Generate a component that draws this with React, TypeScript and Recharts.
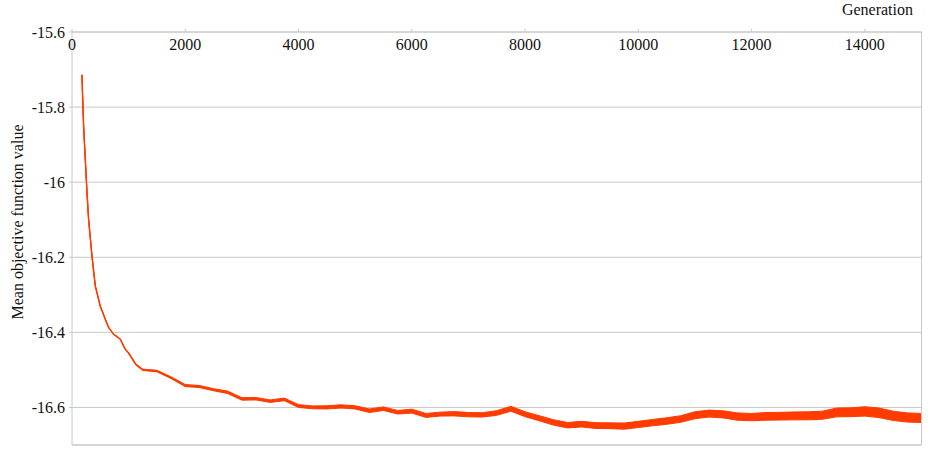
import { Area, ComposedChart, Line, ReferenceLine, XAxis, YAxis, CartesianGrid, Label } from "recharts";

const generation = [
  176, 185, 205, 235, 265, 293, 353, 411, 499, 588, 646, 700, 734, 800, 852, 940,
  1000, 1125, 1250, 1500, 1750, 2000, 2250, 2500, 2750, 3000, 3250, 3500, 3750, 4000, 4250, 4500,
  4750, 5000, 5250, 5500, 5750, 6000, 6250, 6500, 6750, 7000, 7250, 7500, 7750, 8000, 8250, 8500,
  8750, 9000, 9250, 9500, 9750, 10000, 10250, 10500, 10750, 11000, 11250, 11500, 11750, 12000,
  12250, 12500, 12750, 13000, 13250, 13500, 13750, 14000, 14250, 14500, 14750, 15000,
];
const meanValue = [
  -15.714, -15.76, -15.851, -15.94, -16.028, -16.099, -16.197, -16.276, -16.33, -16.365, -16.387,
  -16.398, -16.405, -16.412, -16.418, -16.445,
  -16.455, -16.485, -16.5, -16.503, -16.521, -16.542, -16.544, -16.553, -16.56, -16.577, -16.577,
  -16.583, -16.579, -16.596, -16.6, -16.6, -16.597, -16.6, -16.609, -16.603, -16.613, -16.61,
  -16.621, -16.618, -16.617, -16.619, -16.62, -16.615, -16.604, -16.618, -16.629, -16.64, -16.647,
  -16.645, -16.648, -16.649, -16.65, -16.645, -16.641, -16.636, -16.631, -16.621, -16.616, -16.619,
  -16.624, -16.626, -16.624, -16.623, -16.623, -16.622, -16.621, -16.614, -16.613, -16.611, -16.614,
  -16.622, -16.627, -16.628,
];
// spread of the noisy trace above and below the mean
const noiseUp = [
  0, 0, 0, 0, 0, 0, 0, 0, 0, 0, 0, 0, 0, 0, 0, 0,
  0.001, 0.0015, 0.002, 0.002, 0.0025, 0.003, 0.0025, 0.003, 0.0035, 0.003, 0.0035, 0.003, 0.004,
  0.0035, 0.004, 0.0045, 0.004, 0.0045, 0.005, 0.0045, 0.005, 0.0055, 0.005, 0.0055, 0.006, 0.0055,
  0.006, 0.0065, 0.007, 0.0065, 0.007, 0.0075, 0.007, 0.008, 0.0075, 0.008, 0.0085, 0.008, 0.009,
  0.0085, 0.009, 0.0095, 0.009, 0.01, 0.0095, 0.01, 0.0105, 0.01, 0.011, 0.0105, 0.011, 0.0125,
  0.012, 0.013, 0.0125, 0.012, 0.0125, 0.012,
];
const noiseDown = [
  0, 0, 0, 0, 0, 0, 0, 0, 0, 0, 0, 0, 0, 0, 0, 0,
  0.001, 0.001, 0.0015, 0.002, 0.002, 0.0025, 0.003, 0.0025, 0.003, 0.0035, 0.003, 0.0035, 0.003,
  0.004, 0.0035, 0.004, 0.0045, 0.004, 0.0045, 0.005, 0.0045, 0.005, 0.0055, 0.005, 0.0055, 0.006,
  0.0055, 0.006, 0.006, 0.0065, 0.0065, 0.007, 0.0075, 0.007, 0.008, 0.0075, 0.008, 0.0085, 0.008,
  0.009, 0.0085, 0.009, 0.0095, 0.009, 0.01, 0.0095, 0.01, 0.0105, 0.01, 0.011, 0.0105, 0.011,
  0.0115, 0.012, 0.013, 0.0125, 0.012, 0.012,
];
const xTicks = [0, 2000, 4000, 6000, 8000, 10000, 12000, 14000];
const yTicks = [-16.6, -16.4, -16.2, -16, -15.8, -15.6];

const data = generation.map((g, i) => ({
  g,
  mean: meanValue[i],
  band: [meanValue[i] - noiseDown[i], meanValue[i] + noiseUp[i]],
}));

const FONT = "'Liberation Serif', 'Times New Roman', serif";
const GRID = "#c8c8c8";
const RED = "#ff3c00";

function XTick(props: any) {
  return (
    <text x={props.x} y={50} textAnchor="middle" fontFamily={FONT} fontSize={16} fill="#111">
      {props.payload.value}
    </text>
  );
}

export default function App() {
  return (
    <div style={{ position: "absolute", left: 0, top: 0, background: "#fff" }}>
      <ComposedChart width={928} height={450} data={data} margin={{ top: 2, right: 6.5, bottom: 5, left: 0 }}>
        <CartesianGrid vertical={false} stroke={GRID} />
        <XAxis
          dataKey="g"
          type="number"
          orientation="top"
          height={30}
          domain={[0, 15000]}
          ticks={xTicks}
          allowDataOverflow
          axisLine={{ stroke: GRID }}
          tickLine={{ stroke: GRID }}
          tickSize={3}
          tick={<XTick />}
        />
        <YAxis
          type="number"
          width={72}
          domain={[-16.7, -15.6]}
          ticks={yTicks}
          allowDataOverflow
          axisLine={{ stroke: GRID }}
          tickLine={{ stroke: GRID }}
          tickSize={3}
          tickMargin={4}
          tick={{ fontFamily: FONT, fontSize: 16, fill: "#111" }}
        >
          <Label
            content={() => (
              <text x={23} y={222} transform="rotate(-90, 23, 222)" textAnchor="middle" fontFamily={FONT} fontSize={16} fill="#111">
                Mean objective function value
              </text>
            )}
          />
        </YAxis>
        <ReferenceLine y={-16.7} stroke={GRID} />
        <ReferenceLine x={15000} stroke={GRID} />
        <Area dataKey="band" stroke={RED} strokeWidth={1} fill={RED} fillOpacity={1} isAnimationActive={false} type="linear" />
        <Line dataKey="mean" stroke={RED} strokeWidth={1.5} dot={false} isAnimationActive={false} type="linear" />
      </ComposedChart>
      <div
        style={{
          position: "absolute",
          right: 15,
          top: 1,
          fontFamily: FONT,
          fontSize: 16,
          color: "#111",
        }}
      >
        Generation
      </div>
    </div>
  );
}
